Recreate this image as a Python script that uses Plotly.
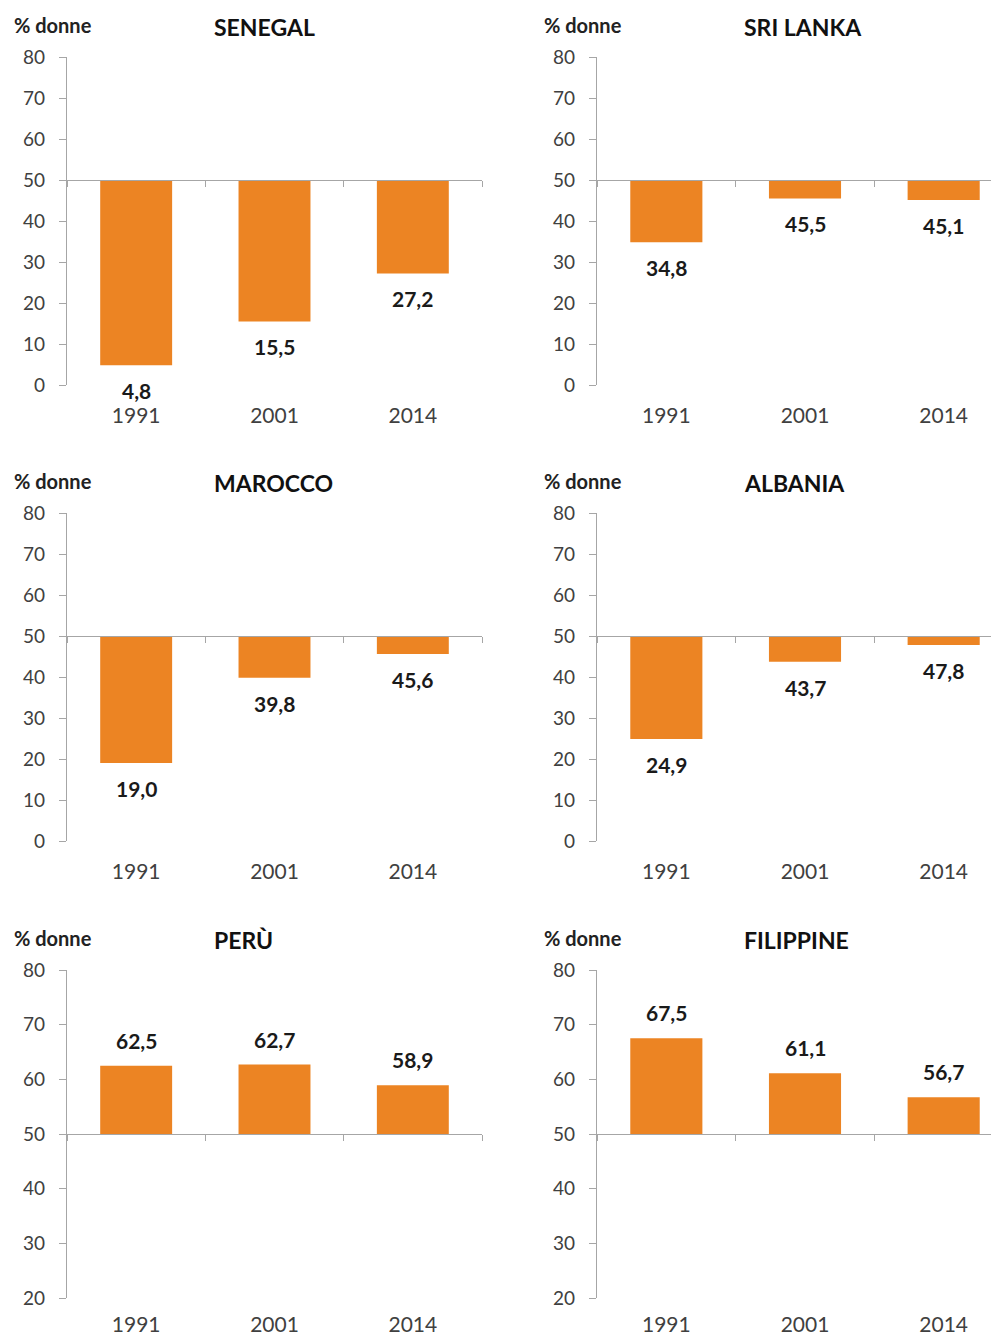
import plotly.graph_objects as go

# ---- data ----
years = ["1991", "2001", "2014"]
countries = ["SENEGAL", "SRI LANKA", "MAROCCO", "ALBANIA", "PERÙ", "FILIPPINE"]
senegal = [4.8, 15.5, 27.2]
sri_lanka = [34.8, 45.5, 45.1]
marocco = [19.0, 39.8, 45.6]
albania = [24.9, 43.7, 47.8]
peru = [62.5, 62.7, 58.9]
filippine = [67.5, 61.1, 56.7]
series = [senegal, sri_lanka, marocco, albania, peru, filippine]
baseline = 50
y_ranges = [[0, 80], [0, 80], [0, 80], [0, 80], [20, 80], [20, 80]]
y_label = "% donne"

# ---- styling / layout constants ----
PAGE_W, PAGE_H = 999, 1337
OFF = 8                                   # default body margin of the html page
W, H = PAGE_W - OFF, PAGE_H - OFF
FONT = "Lato"
ORANGE = "#EC8423"
AXIS = "#A6A6A6"
TICKTXT = "#404040"

# pixel extents in page coordinates
col_x = [(67, 482), (597, 1013)]
row_y = [(57, 385), (513, 841), (970, 1298)]
year_standoff = [16, 16, 12]
title_x = [212, 742]
ylab_x = [12, 542]


def px(v):
    return v - OFF


fig = go.Figure()

for i, (name, vals) in enumerate(zip(countries, series)):
    r, c = divmod(i, 2)
    n = i + 1
    ov = i + 7
    x0, x1 = px(col_x[c][0]), px(col_x[c][1])
    top, bot = px(row_y[r][0]), px(row_y[r][1])
    cat_w = (x1 - x0) / 3.0
    x1c = min(x1, W)
    xr = [-0.5, -0.5 + (x1c - x0) / cat_w]
    xdom = [x0 / W, x1c / W]
    ydom = [1 - bot / H, 1 - top / H]
    ymin, ymax = y_ranges[i]
    pos50 = ydom[0] + (baseline - ymin) / (ymax - ymin) * (ydom[1] - ydom[0])

    xa = "x" if n == 1 else f"x{n}"
    ya = "y" if n == 1 else f"y{n}"

    fig.add_trace(go.Bar(
        x=[0, 1, 2], y=[v - baseline for v in vals], base=baseline,
        width=0.52, marker=dict(color=ORANGE, line=dict(width=0)),
        xaxis=xa, yaxis=ya, showlegend=False, hoverinfo="skip",
    ))
    # dummy trace to register overlay axis (baseline axis at 50)
    fig.add_trace(go.Scatter(x=[None], y=[None], xaxis=f"x{ov}", yaxis=ya,
                             showlegend=False, hoverinfo="skip"))

    for j, v in enumerate(vals):
        below = v < baseline
        fig.add_annotation(
            x=j, y=v, xref=xa, yref=ya,
            text=f"<b>{v:.1f}</b>".replace(".", ","),
            showarrow=False, yanchor="top" if below else "bottom",
            yshift=-11 if below else 11,
            font=dict(family=FONT, size=21, color="#1a1a1a"),
        )

    fig.layout[f"xaxis{n}"] = dict(
        domain=xdom, range=xr, anchor=ya, showline=False, showgrid=False,
        zeroline=False, tickvals=[0, 1, 2], ticktext=years, ticks="",
        ticklabelstandoff=year_standoff[r], fixedrange=True, automargin=False,
        tickfont=dict(family=FONT, size=21, color=TICKTXT),
    )
    fig.layout[f"yaxis{n}"] = dict(
        domain=ydom, range=[ymin, ymax], anchor=xa, dtick=10, tick0=0,
        showline=True, linecolor=AXIS, linewidth=1.2, showgrid=False,
        zeroline=False, ticks="outside", ticklen=7, tickcolor=AXIS,
        tickwidth=1.2, ticklabelstandoff=10, fixedrange=True, automargin=False,
        tickfont=dict(family=FONT, size=19, color=TICKTXT),
    )
    fig.layout[f"xaxis{ov}"] = dict(
        overlaying=xa, anchor="free", position=pos50, range=xr,
        showline=True, linecolor=AXIS, linewidth=1.2, showgrid=False,
        zeroline=False, ticks="outside", ticklen=6, tickcolor=AXIS,
        tickwidth=1.2, tickvals=[-0.5, 0.5, 1.5, 2.5], showticklabels=False,
        fixedrange=True, automargin=False,
    )

    fig.add_annotation(
        text=f"<b>{name}</b>", xref="paper", yref="paper",
        x=px(title_x[c]) / W, y=1 - (top - 30) / H, xanchor="left", yanchor="middle",
        showarrow=False, font=dict(family=FONT, size=23, color="#111111"),
    )
    fig.add_annotation(
        text=f"<b>{y_label}</b>", xref="paper", yref="paper",
        x=px(ylab_x[c]) / W, y=1 - (top - 32) / H, xanchor="left", yanchor="middle",
        showarrow=False, font=dict(family=FONT, size=20, color="#222222"),
    )

fig.update_layout(
    width=W, height=H, margin=dict(l=0, r=0, t=0, b=0, autoexpand=False),
    paper_bgcolor="white", plot_bgcolor="white",
    font=dict(family=FONT),
)

fig.write_html("out.html")
